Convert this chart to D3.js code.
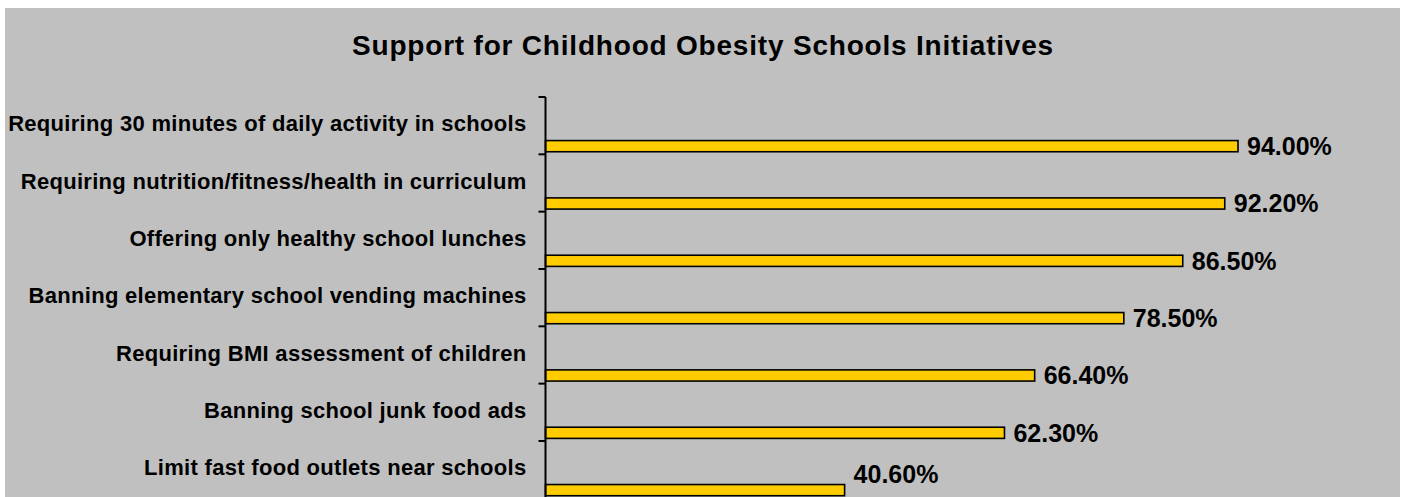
<!DOCTYPE html>
<html>
<head>
<meta charset="utf-8">
<script src="https://cdn.jsdelivr.net/npm/d3@7"></script>
<style>
  body { margin: 0; background: #fff; }
  text { font-family: "Liberation Sans", Arial, sans-serif; font-weight: bold; fill: #000; }
</style>
</head>
<body>
<div id="chart"></div>
<script>
// chart data, top to bottom as in the picture
var categories = [
  "Requiring 30 minutes of daily activity in schools",
  "Requiring nutrition/fitness/health in curriculum",
  "Offering only healthy school lunches",
  "Banning elementary school vending machines",
  "Requiring BMI assessment of children",
  "Banning school junk food ads",
  "Limit fast food outlets near schools"
];
var values = [94.0, 92.2, 86.5, 78.5, 66.4, 62.3, 40.6];
var valueLabels = ["94.00%", "92.20%", "86.50%", "78.50%", "66.40%", "62.30%", "40.60%"];
var title = "Support for Childhood Obesity Schools Initiatives";

var width = 1404;
var height = 497;

var svg = d3.select("#chart")
  .append("svg")
  .attr("width", width)
  .attr("height", height);

// grey chart area (runs off the bottom edge like the original)
svg.append("rect")
  .attr("x", 5)
  .attr("y", 8)
  .attr("width", 1395)
  .attr("height", height)
  .attr("fill", "#c0c0c0");

svg.append("text")
  .attr("x", 703)
  .attr("y", 55)
  .attr("text-anchor", "middle")
  .style("font-size", "28px")
  .style("letter-spacing", "0.8px")
  .text(title);

// plot area
var plotLeft = 545.5;
var plotTop = 97;
var plotBottom = 498.3;

var xScale = d3.scaleLinear()
  .domain([0, 100])
  .range([plotLeft, plotLeft + 736.7]);

var yScale = d3.scaleBand()
  .domain(categories)
  .range([plotTop, plotBottom]);

var bw = yScale.bandwidth();

// bars sit in the lower part of each band
svg.selectAll("rect.bar")
  .data(values)
  .enter()
  .append("rect")
  .attr("class", "bar")
  .attr("x", xScale(0))
  .attr("y", (d, i) => yScale(categories[i]) + bw * 0.76)
  .attr("width", d => xScale(d) - xScale(0))
  .attr("height", bw * 0.195)
  .attr("fill", "#ffcc00")
  .attr("stroke", "#000")
  .attr("stroke-width", 1.6);

// value labels, pushed up if they would fall past the plot bottom
svg.selectAll("text.val")
  .data(values)
  .enter()
  .append("text")
  .attr("class", "val")
  .attr("x", d => xScale(d) + 9)
  .attr("y", (d, i) => Math.min(yScale(categories[i]) + bw * 0.76 + bw * 0.0975, plotBottom - 24))
  .attr("dy", "0.35em")
  .style("font-size", "25px")
  .text((d, i) => valueLabels[i]);

// category axis on the left, ticks between categories
svg.append("line")
  .attr("x1", plotLeft)
  .attr("x2", plotLeft)
  .attr("y1", plotTop)
  .attr("y2", height)
  .attr("stroke", "#000")
  .attr("stroke-width", 2);

var tickYs = categories.map(c => yScale(c)).concat([plotBottom]);
svg.selectAll("line.tick")
  .data(tickYs)
  .enter()
  .append("line")
  .attr("class", "tick")
  .attr("x1", plotLeft - 7)
  .attr("x2", plotLeft)
  .attr("y1", d => d)
  .attr("y2", d => d)
  .attr("stroke", "#000")
  .attr("stroke-width", 2);

svg.selectAll("text.cat")
  .data(categories)
  .enter()
  .append("text")
  .attr("class", "cat")
  .attr("x", plotLeft - 19)
  .attr("y", d => yScale(d) + bw / 2 - 2)
  .attr("dy", "0.35em")
  .attr("text-anchor", "end")
  .style("font-size", "22px")
  .style("letter-spacing", "0.3px")
  .text(d => d);
</script>
</body>
</html>
